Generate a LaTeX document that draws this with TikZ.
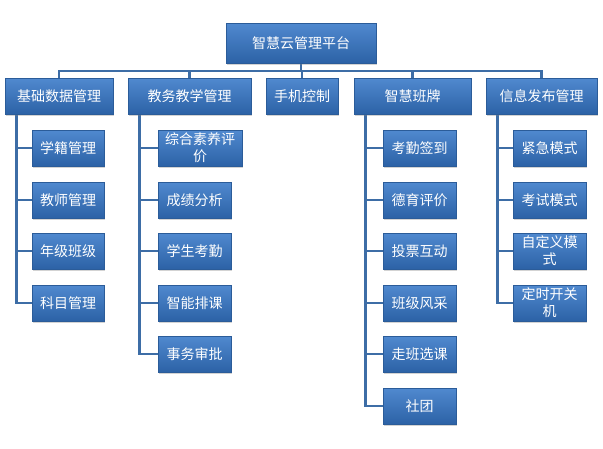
\documentclass[tikz,border=0pt]{standalone}
\usepackage{fontspec}
\newfontfamily\cjk{Noto Sans CJK SC}
\usetikzlibrary{shadows,backgrounds}
\definecolor{boxtop}{HTML}{5089CF}
\definecolor{boxbot}{HTML}{2C62A6}
\definecolor{boxedge}{HTML}{2B5C99}
\definecolor{linkc}{HTML}{3D6DA6}
\tikzset{
  box/.style={rectangle, top color=boxtop, bottom color=boxbot, draw=boxedge, line width=0.6pt,
    text=white, font=\cjk\fontsize{14}{17}\selectfont, align=center, inner sep=0pt,
    minimum height=36pt, drop shadow={opacity=0.35, shadow xshift=1.2pt, shadow yshift=-1.5pt}},
  link/.style={draw=linkc, line width=2.6pt}
}
\begin{document}
\begin{tikzpicture}[x=1pt,y=-1pt]
\useasboundingbox (0,0) rectangle (603,448);
% root
\node[box, minimum width=150pt, minimum height=40pt] (root) at (301,43) {智慧云管理平台};
\coordinate (bus) at (301,71);
% level 1
\node[box, minimum width=108pt] (a) at (59,96) {基础数据管理};
\node[box, minimum width=123pt] (b) at (189.5,96) {教务教学管理};
\node[box, minimum width=72pt] (c) at (302,96) {手机控制};
\node[box, minimum width=117pt] (d) at (412.5,96) {智慧班牌};
\node[box, minimum width=111pt] (e) at (541.5,96) {信息发布管理};
% column a
\node[box, minimum width=72pt] (a1) at (68,148) {学籍管理};
\node[box, minimum width=72pt] (a2) at (68,200) {教师管理};
\node[box, minimum width=72pt] (a3) at (68,251) {年级班级};
\node[box, minimum width=72pt] (a4) at (68,303) {科目管理};
% column b
\node[box, minimum width=84pt] (b1) at (200,148) {综合素养评\\价};
\node[box, minimum width=73pt] (b2) at (194.5,200) {成绩分析};
\node[box, minimum width=73pt] (b3) at (194.5,251) {学生考勤};
\node[box, minimum width=73pt] (b4) at (194.5,303) {智能排课};
\node[box, minimum width=73pt] (b5) at (194.5,354) {事务审批};
% column d
\node[box, minimum width=73pt] (d1) at (419.5,148) {考勤签到};
\node[box, minimum width=73pt] (d2) at (419.5,200) {德育评价};
\node[box, minimum width=73pt] (d3) at (419.5,251) {投票互动};
\node[box, minimum width=73pt] (d4) at (419.5,303) {班级风采};
\node[box, minimum width=73pt] (d5) at (419.5,354) {走班选课};
\node[box, minimum width=73pt] (d6) at (419.5,406) {社团};
% column e
\node[box, minimum width=73pt] (e1) at (549.5,148) {紧急模式};
\node[box, minimum width=73pt] (e2) at (549.5,200) {考试模式};
\node[box, minimum width=73pt] (e3) at (549.5,251) {自定义模\\式};
\node[box, minimum width=73pt] (e4) at (549.5,303) {定时开关\\机};
\begin{pgfonlayer}{background}
\draw[link] (root.south) -- (bus);
\draw[link] (a.north) |- (bus) -| (e.north);
\draw[link] (b.north) -- (b.north |- bus);
\draw[link] (c.north) -- (c.north |- bus);
\draw[link] (d.north) -- (d.north |- bus);
\foreach \p/\k in {a/a1,a/a2,a/a3,a/a4,b/b1,b/b2,b/b3,b/b4,b/b5,d/d1,d/d2,d/d3,d/d4,d/d5,d/d6,e/e1,e/e2,e/e3,e/e4}
  \draw[link] ([xshift=12pt]\p.south west) |- (\k.west);
\end{pgfonlayer}
\end{tikzpicture}
\end{document}
